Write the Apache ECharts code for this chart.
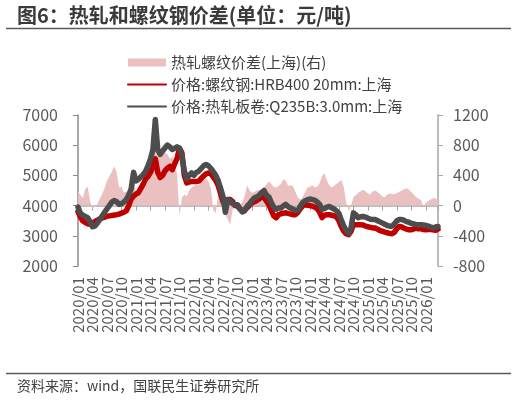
<!DOCTYPE html>
<html>
<head>
<meta charset="utf-8">
<script src="https://cdn.jsdelivr.net/npm/echarts@6/dist/echarts.min.js"></script>
<style>
html,body{margin:0;padding:0;background:#fff;}
#c{width:516px;height:401px;}
</style>
</head>
<body>
<div id="c"></div>
<script>
// Semi-monthly observations, 2020/01 .. 2026/03 (two points per month)
const startYear = 2020, endYear = 2026, endMonth = 3;
const categories = [];
for (let y = startYear; y <= endYear; y++) {
  for (let m = 1; m <= 12; m++) {
    if (y === endYear && m > endMonth) break;
    const mm = (m < 10 ? '0' : '') + m;
    categories.push(y + '/' + mm);
    categories.push(y + '/' + mm + '/16');
  }
}
const tickLabels = ['2020/01','2020/04','2020/07','2020/10','2021/01','2021/04','2021/07','2021/10',
  '2022/01','2022/04','2022/07','2022/10','2023/01','2023/04','2023/07','2023/10',
  '2024/01','2024/04','2024/07','2024/10','2025/01','2025/04','2025/07','2025/10','2026/01'];

const spread = [190,140,100,220,250,60,-40,-20,20,90,150,230,330,390,450,520,440,240,250,170,
  190,150,200,400,160,200,250,280,260,320,400,470,1000,680,700,720,700,680,620,650,
  560,420,-130,100,150,120,200,240,260,280,270,310,340,360,320,230,-60,-100,150,60,
  -60,-120,-180,-250,-50,-10,10,20,40,130,270,200,170,180,200,210,170,240,280,320,
  290,250,240,260,290,350,330,260,270,260,180,110,80,110,180,240,250,270,240,250,
  300,390,430,330,270,240,260,290,310,340,250,40,-75,0,110,140,170,190,210,190,
  160,146,190,200,180,150,120,110,146,160,155,150,168,185,200,215,230,210,180,146,
  110,90,70,-20,40,60,80,100,90,85];

const rebar = [3800,3620,3490,3440,3400,3380,3420,3470,3520,3560,3590,3620,3650,3660,3670,3690,3700,3720,3750,3780,
  3830,4000,4220,4320,4380,4430,4570,4710,4880,4970,5100,5300,5550,5100,4930,5000,5150,5240,5300,5190,
  5380,5560,5900,5750,5000,4750,4780,4800,4800,4800,4810,4900,4980,5050,5080,5050,4950,4830,4670,4400,
  4130,3990,4200,4200,4130,4000,3980,3900,3820,3860,3930,4010,4090,4130,4170,4220,4310,4260,4150,4030,
  3840,3660,3600,3700,3730,3750,3760,3740,3720,3700,3700,3780,3900,3990,4030,4010,4000,3980,3950,3900,
  3780,3600,3680,3700,3700,3680,3660,3620,3500,3300,3150,3070,3040,3150,3370,3370,3370,3370,3360,3320,
  3300,3280,3260,3260,3220,3170,3150,3120,3100,3080,3070,3120,3240,3310,3290,3250,3220,3200,3200,3230,
  3250,3230,3230,3210,3200,3220,3210,3200,3180,3220];

const hrc = [3950,3750,3680,3640,3600,3470,3300,3320,3420,3540,3650,3780,3890,4000,4120,4170,4130,4040,4060,4120,
  4200,4350,4550,5100,4820,4870,4950,5030,5140,5320,5550,5850,6850,5850,5700,5810,5910,6000,5950,5860,
  5900,5950,5900,5650,5150,4880,5000,5080,5000,5100,5140,5230,5320,5360,5320,5230,5120,5000,4830,4580,
  4300,3780,4200,4150,4060,4030,4030,3900,3790,3830,3980,4060,4170,4260,4290,4340,4430,4500,4350,4290,
  4100,3950,3880,3920,3920,3990,4040,3960,3920,3880,3840,3850,3980,4100,4160,4190,4220,4200,4180,4120,
  4040,3880,3900,3950,3970,3930,3890,3820,3740,3520,3320,3170,3090,3250,3760,3700,3600,3630,3640,3620,
  3580,3550,3540,3540,3500,3460,3420,3380,3340,3320,3320,3400,3500,3540,3540,3510,3470,3450,3410,3390,
  3370,3370,3370,3360,3340,3320,3290,3260,3290,3310];

const names = ['热轧螺纹价差(上海)(右)', '价格:螺纹钢:HRB400 20mm:上海', '价格:热轧板卷:Q235B:3.0mm:上海'];
const titleText = '图6：热轧和螺纹钢价差(单位：元/吨)';
const sourceText = '资料来源：wind，国联民生证券研究所';

const FONT = '"Microsoft YaHei","Noto Sans CJK SC",sans-serif';
const PINK = '#ebc0c0', RED = '#c00000', GRAY = '#4d4d4d';

const chart = echarts.init(document.getElementById('c'), null, {renderer: 'canvas'});
chart.setOption({
  animation: false,
  backgroundColor: '#ffffff',
  textStyle: {fontFamily: FONT},
  graphic: [
    {type: 'text', left: 17, top: 5, style: {text: titleText, fill: '#3a3a3a', font: 'bold 20px ' + FONT}},
    {type: 'line', shape: {x1: 6, y1: 28.5, x2: 511, y2: 28.5}, style: {stroke: '#5a5a5a', lineWidth: 1.5}},
    {type: 'line', shape: {x1: 6, y1: 373.5, x2: 511, y2: 373.5}, style: {stroke: '#5a5a5a', lineWidth: 1.5}},
    {type: 'text', left: 17, top: 379, style: {text: sourceText, fill: '#404040', font: '14px ' + FONT}}
  ],
  legend: {
    orient: 'vertical',
    left: 122,
    top: 50,
    itemWidth: 38,
    itemHeight: 8,
    itemGap: 7,
    textStyle: {fontSize: 15, color: '#404040', fontFamily: FONT},
    data: [
      {name: names[0], icon: 'rect', itemStyle: {color: PINK}},
      {name: names[1], itemStyle: {opacity: 0}},
      {name: names[2], itemStyle: {opacity: 0}}
    ]
  },
  grid: {left: 78, right: 78, top: 115, bottom: 135},
  xAxis: {
    type: 'category',
    data: categories,
    boundaryGap: false,
    axisLine: {lineStyle: {color: '#a6a6a6', width: 1.5}},
    axisTick: {interval: 5, length: 5, lineStyle: {color: '#a6a6a6'}},
    axisLabel: {interval: 0, rotate: 90, margin: 11, color: '#595959', fontSize: 15,
      fontFamily: FONT, hideOverlap: false,
      formatter: (v) => (tickLabels.indexOf(v) >= 0 ? v : '')}
  },
  yAxis: [
    {
      type: 'value', min: 2000, max: 7000, interval: 1000,
      axisLine: {show: true, lineStyle: {color: '#8c8c8c', width: 1.5}},
      axisTick: {show: true, length: 5, lineStyle: {color: '#8c8c8c'}},
      splitLine: {show: false},
      axisLabel: {color: '#595959', fontSize: 16, margin: 20, fontFamily: FONT, formatter: (v) => String(v)}
    },
    {
      type: 'value', min: -800, max: 1200, interval: 400,
      axisLine: {show: true, lineStyle: {color: '#a6a6a6', width: 1.5}},
      axisTick: {show: true, length: 5, lineStyle: {color: '#a6a6a6'}},
      splitLine: {show: false},
      axisLabel: {color: '#595959', fontSize: 16, margin: 15, fontFamily: FONT, formatter: (v) => String(v)}
    }
  ],
  series: [
    {
      name: names[0], type: 'line', yAxisIndex: 1, data: spread,
      symbol: 'none', lineStyle: {width: 0}, itemStyle: {color: PINK},
      areaStyle: {color: PINK, opacity: 1}, z: 1
    },
    {
      name: names[1], type: 'line', data: rebar, symbol: 'none',
      itemStyle: {color: RED},
      lineStyle: {color: RED, width: 5.5, cap: 'round', join: 'round'}, z: 2
    },
    {
      name: names[2], type: 'line', data: hrc, symbol: 'none',
      itemStyle: {color: GRAY},
      lineStyle: {color: GRAY, width: 5.5, cap: 'round', join: 'round'}, z: 3
    }
  ]
});
</script>
</body>
</html>
